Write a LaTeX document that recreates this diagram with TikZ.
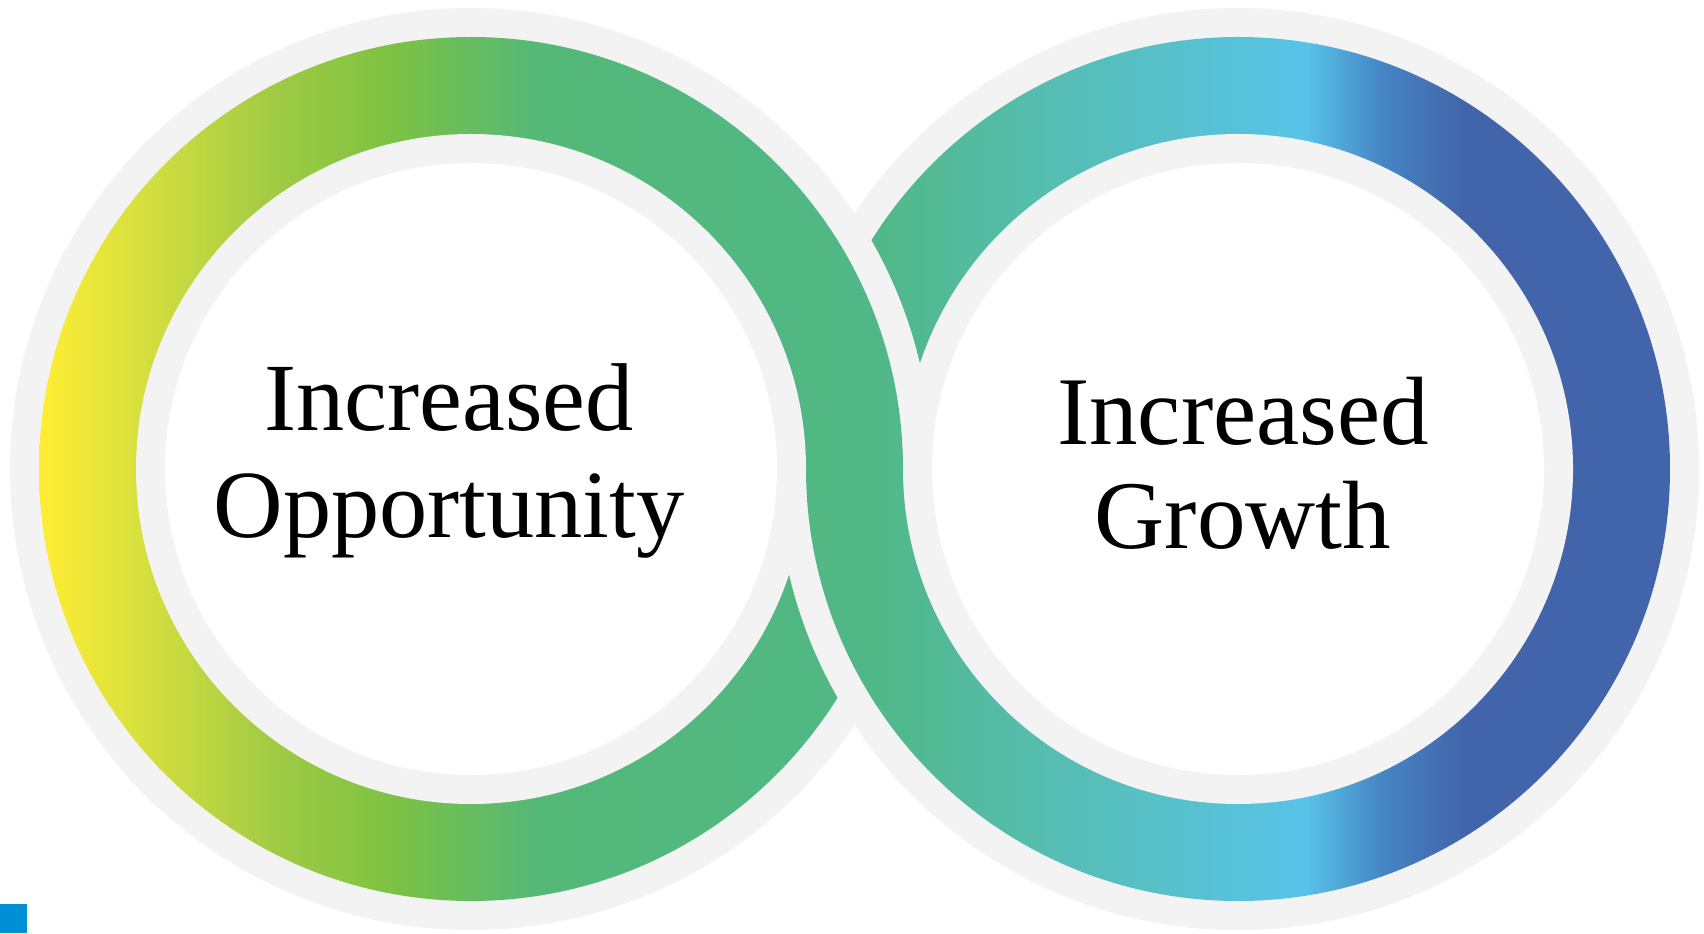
\documentclass[tikz,border=0pt]{standalone}
\usepackage{fontspec}
\setmainfont{Liberation Serif}
\definecolor{halo}{RGB}{243,243,243}
\definecolor{cornerblue}{RGB}{0,143,213}
\definecolor{loopA}{RGB}{255,237,51}
\definecolor{loopB}{RGB}{215,224,62}
\definecolor{loopC}{RGB}{162,203,68}
\definecolor{loopD}{RGB}{126,194,66}
\definecolor{loopE}{RGB}{84,184,120}
\definecolor{loopF}{RGB}{80,184,135}
\definecolor{loopG}{RGB}{86,190,180}
\definecolor{loopH}{RGB}{88,195,232}
\definecolor{loopI}{RGB}{70,132,195}
\definecolor{loopJ}{RGB}{65,100,170}
\pgfdeclarehorizontalshading{loopgrad}{100bp}{color(0bp)=(loopA); color(26.2bp)=(loopA);
  color(29.1bp)=(loopB); color(32.9bp)=(loopC); color(36.4bp)=(loopD);
  color(40.8bp)=(loopE); color(50.8bp)=(loopF); color(56.1bp)=(loopG);
  color(63.3bp)=(loopH); color(65.6bp)=(loopI); color(68bp)=(loopJ);
  color(100bp)=(loopJ)}
\tikzset{
  haloring/.style={fill=halo},
  ringtext/.style={align=center, inner sep=0pt, anchor=base}
}
\newcommand{\ringlayers}[1]{%
  \fill[haloring] (#1) circle (461);
  \begin{scope}
    \clip (#1) circle (432);
    \shade[shading=loopgrad] (0,0) rectangle (1704,933);
  \end{scope}
  \fill[halo] (#1) circle (335);
  \fill[white] (#1) circle (306);
}
\begin{document}
\begin{tikzpicture}[x=0.01cm, y=0.01cm]
  \useasboundingbox (0,0) rectangle (1704,933);
  \coordinate (L) at (471,464);
  \coordinate (R) at (1238,464);
  \ringlayers{R}
  \ringlayers{L}
  \begin{scope}
    \clip (0,0) rectangle (1704,464);
    \ringlayers{R}
  \end{scope}
  \node[ringtext, font=\fontsize{27.4}{30.4}\selectfont] (opp) at (449,396) {Increased\\Opportunity};
  \node[ringtext, font=\fontsize{27.6}{29.3}\selectfont] (growth) at (1243,385) {Increased\\Growth};
  \fill[cornerblue] (0,0) rectangle (27,29);
\end{tikzpicture}
\end{document}
